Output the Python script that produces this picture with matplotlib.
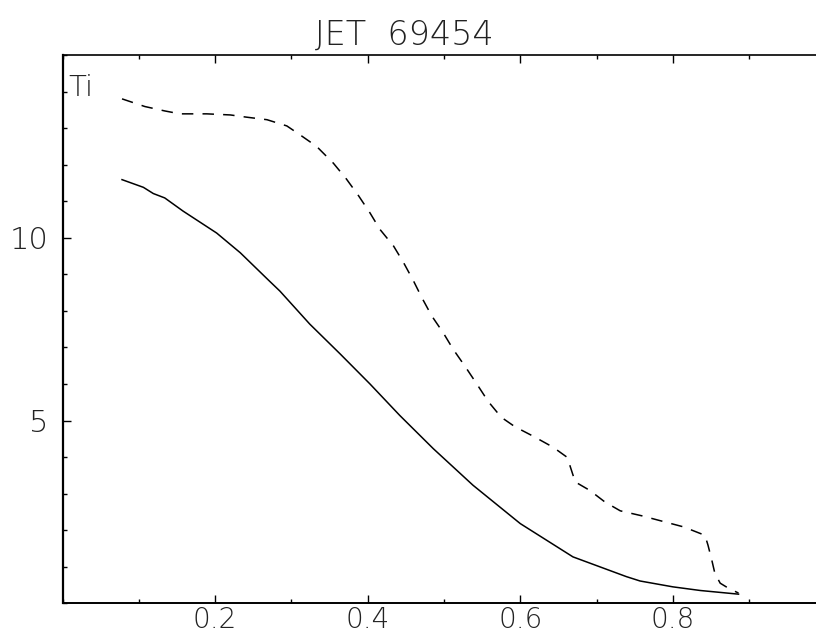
import matplotlib
matplotlib.use("Agg")
import matplotlib.pyplot as plt
from matplotlib.ticker import MultipleLocator, FixedLocator, FixedFormatter

# ---- data ----
x_solid = [0.078, 0.106, 0.119, 0.134, 0.158, 0.202, 0.233, 0.270, 0.285, 0.324,
           0.364, 0.403, 0.442, 0.486, 0.538, 0.600, 0.669, 0.739, 0.757, 0.800,
           0.836, 0.886]
ti_solid = [11.59, 11.38, 11.21, 11.09, 10.73, 10.13, 9.59, 8.84, 8.54, 7.64,
            6.82, 6.00, 5.14, 4.23, 3.23, 2.18, 1.27, 0.73, 0.61, 0.45,
            0.35, 0.25]

x_dashed = [0.078, 0.108, 0.134, 0.154, 0.189, 0.220, 0.241, 0.268, 0.294, 0.311,
            0.333, 0.355, 0.372, 0.388, 0.403, 0.416, 0.434, 0.447, 0.460, 0.471,
            0.484, 0.499, 0.512, 0.528, 0.543, 0.558, 0.575, 0.593, 0.617, 0.643,
            0.661, 0.665, 0.672, 0.691, 0.711, 0.731, 0.760, 0.787, 0.814, 0.842,
            0.846, 0.851, 0.855, 0.862, 0.873, 0.886]
ti_dashed = [13.80, 13.59, 13.47, 13.39, 13.39, 13.36, 13.30, 13.23, 13.06, 12.82,
             12.50, 12.04, 11.61, 11.15, 10.68, 10.23, 9.77, 9.32, 8.82, 8.36,
             7.86, 7.40, 6.95, 6.47, 6.00, 5.52, 5.09, 4.83, 4.57, 4.27,
             4.00, 3.77, 3.32, 3.09, 2.77, 2.53, 2.39, 2.24, 2.09, 1.86,
             1.59, 1.18, 0.82, 0.55, 0.41, 0.28]

x_major = [0.2, 0.4, 0.6, 0.8]
x_labels = ["0.2", "0.4", "0.6", "0.8"]
y_major = [5, 10]
y_labels = ["5", "10"]
title = "JET  69454"
ylabel_text = "Ti"

# ---- figure ----
W, H = 816, 635
fig = plt.figure(figsize=(W / 100, H / 100), dpi=100)
left_px, right_px, top_px, bot_px = 62.5, 825.5, 55, 603.3
ax = fig.add_axes([left_px / W, (H - bot_px) / H, (right_px - left_px) / W, (bot_px - top_px) / H])

ax.plot(x_solid, ti_solid, color="black", lw=1.1, solid_joinstyle="round")
ax.plot(x_dashed, ti_dashed, color="black", lw=1.1, dashes=(7.5, 6.0))

ax.set_xlim(0, 1.0)
ax.set_ylim(0, 15)

for s in ax.spines.values():
    s.set_color("black")
ax.spines["left"].set_linewidth(1.6)
ax.spines["bottom"].set_linewidth(1.4)
ax.spines["top"].set_linewidth(1.2)

ax.xaxis.set_major_locator(FixedLocator(x_major))
ax.xaxis.set_major_formatter(FixedFormatter(x_labels))
ax.xaxis.set_minor_locator(MultipleLocator(0.1))
ax.yaxis.set_major_locator(FixedLocator(y_major))
ax.yaxis.set_major_formatter(FixedFormatter(y_labels))
ax.yaxis.set_minor_locator(MultipleLocator(1))

ax.tick_params(which="both", direction="in", top=True, right=False, color="black")
ax.tick_params(which="major", length=6, width=1.0)
ax.tick_params(which="minor", length=3, width=1.0)
ax.tick_params(axis="x", which="major", pad=2, labelsize=20)
ax.tick_params(axis="y", which="major", pad=10, labelsize=22)
for lab in ax.get_xticklabels() + ax.get_yticklabels():
    lab.set_fontweight("light")
    lab.set_color("#222222")

ax.text(0.007, 13.89, ylabel_text, fontsize=21, va="baseline", ha="left",
        color="#222222", fontweight="light")

fig.text(404 / W, (H - 45) / H, title, fontsize=24, ha="center", va="baseline",
         color="#222222", fontweight="light")

fig.savefig("out.png", dpi=100, facecolor="white")
